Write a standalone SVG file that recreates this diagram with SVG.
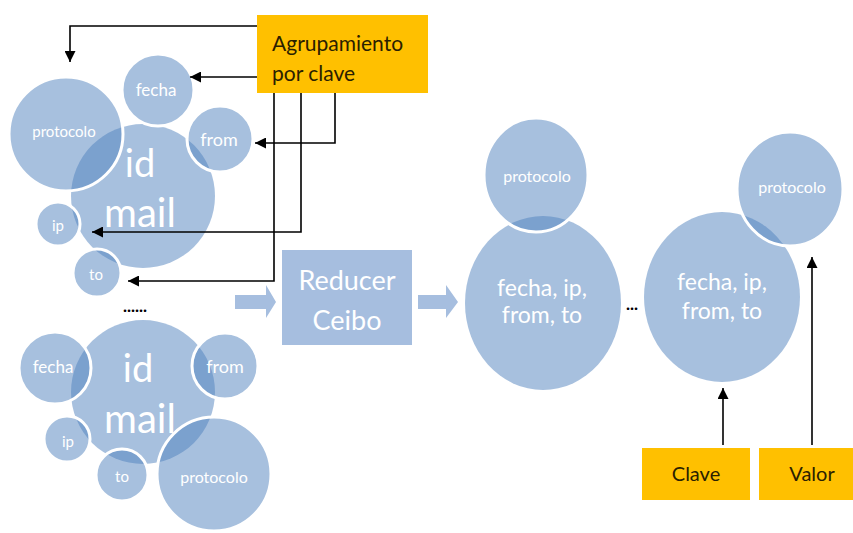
<svg xmlns="http://www.w3.org/2000/svg" width="853" height="533" viewBox="0 0 853 533">
<defs>
<style>
.c{fill:#4F81BD;fill-opacity:0.5;stroke:#fff;stroke-width:3}
.t{fill:#fff;font-family:Lato,"Liberation Sans",sans-serif;text-anchor:middle}
.k{fill:#2a2000;font-family:Lato,"Liberation Sans",sans-serif;text-anchor:middle}
.y{fill:#FFC000}
.ln{fill:none;stroke:#000;stroke-width:1.6}
.blk{fill:#A6BEDF}
</style>
<marker id="ah" viewBox="0 0 10 10" refX="10" refY="5" markerWidth="11" markerHeight="11" markerUnits="userSpaceOnUse" orient="auto">
<path d="M0,0 L10,5 L0,10 Z" fill="#000"/>
</marker>
</defs>
<rect width="853" height="533" fill="#fff"/>

<g id="cluster1">
<circle class="c" cx="143" cy="196" r="72" style="stroke:none"/>
<circle class="c" cx="66" cy="134" r="57"/>
<circle class="c" cx="158" cy="90" r="36"/>
<circle class="c" cx="220" cy="139" r="33"/>
<circle class="c" cx="58" cy="224" r="22"/>
<circle class="c" cx="97" cy="273" r="24"/>
<text class="t" x="140" y="177" font-size="38">id</text>
<text class="t" x="140" y="227" font-size="40">mail</text>
<text class="t" x="64" y="137" font-size="15">protocolo</text>
<text class="t" x="156" y="96" font-size="17">fecha</text>
<text class="t" x="219" y="146" font-size="18">from</text>
<text class="t" x="58" y="231" font-size="15">ip</text>
<text class="t" x="96" y="280" font-size="15">to</text>
</g>

<g id="dots1"><text class="k" x="135" y="312" font-size="17" font-weight="bold" style="fill:#000">......</text></g>

<g id="cluster2">
<circle class="c" cx="143" cy="392" r="72" style="stroke:none"/>
<circle class="c" cx="55" cy="368" r="36"/>
<circle class="c" cx="225" cy="366" r="33"/>
<circle class="c" cx="67" cy="439" r="23"/>
<circle class="c" cx="122" cy="475" r="26"/>
<circle class="c" cx="214" cy="474" r="57"/>
<text class="t" x="138" y="382" font-size="38">id</text>
<text class="t" x="140" y="433" font-size="40">mail</text>
<text class="t" x="53" y="373" font-size="17">fecha</text>
<text class="t" x="225" y="373" font-size="18">from</text>
<text class="t" x="68" y="447" font-size="15">ip</text>
<text class="t" x="122" y="482" font-size="15">to</text>
<text class="t" x="214" y="483" font-size="16">protocolo</text>
</g>

<g id="agrupamiento">
<rect class="y" x="257" y="15" width="171" height="78"/>
<text x="272" y="51" font-size="21" style="fill:#2a2000;font-family:Lato,'Liberation Sans',sans-serif">Agrupamiento</text>
<text x="272" y="81" font-size="21" style="fill:#2a2000;font-family:Lato,'Liberation Sans',sans-serif">por clave</text>
</g>

<g id="reducer">
<rect class="blk" x="282" y="250" width="130" height="95"/>
<text class="t" x="347" y="290" font-size="27">Reducer</text>
<text class="t" x="347" y="330" font-size="27">Ceibo</text>
</g>

<g id="blockarrows">
<path class="blk" d="M235,295 H266 V285 L276,302 L266,318 V309 H235 Z"/>
<path class="blk" d="M418,295 H446 V285 L458,302 L446,318 V309 H418 Z"/>
</g>

<g id="result1">
<ellipse class="c" cx="543" cy="303" rx="78" ry="87" style="stroke:none"/>
<ellipse class="c" cx="536" cy="175" rx="52" ry="57"/>
<text class="t" x="537" y="182" font-size="16">protocolo</text>
<text class="t" x="542" y="296" font-size="23">fecha, ip,</text>
<text class="t" x="542" y="323" font-size="23">from, to</text>
</g>

<g id="dots2"><text class="k" x="632" y="310" font-size="17" font-weight="bold" style="fill:#000">...</text></g>

<g id="result2">
<ellipse class="c" cx="722" cy="297" rx="78" ry="85" style="stroke:none"/>
<ellipse class="c" cx="790" cy="189" rx="53" ry="57"/>
<text class="t" x="792" y="193" font-size="16">protocolo</text>
<text class="t" x="722" y="290" font-size="23">fecha, ip,</text>
<text class="t" x="722" y="319" font-size="23">from, to</text>
</g>

<g id="clave">
<rect class="y" x="642" y="448" width="108" height="52"/>
<text class="k" x="696" y="481" font-size="20">Clave</text>
</g>
<g id="valor">
<rect class="y" x="759" y="448" width="94" height="52"/>
<text class="k" x="812" y="481" font-size="20">Valor</text>
</g>

<g id="connectors">
<path class="ln" d="M257,26 H70 V62" marker-end="url(#ah)"/>
<path class="ln" d="M257,77 H190" marker-end="url(#ah)"/>
<path class="ln" d="M335,93 V143 H255" marker-end="url(#ah)"/>
<path class="ln" d="M301,93 V232 H92" marker-end="url(#ah)"/>
<path class="ln" d="M274,93 V281 H128" marker-end="url(#ah)"/>
<path class="ln" d="M723,445 V388" marker-end="url(#ah)"/>
<path class="ln" d="M812,445 V257" marker-end="url(#ah)"/>
</g>
</svg>
